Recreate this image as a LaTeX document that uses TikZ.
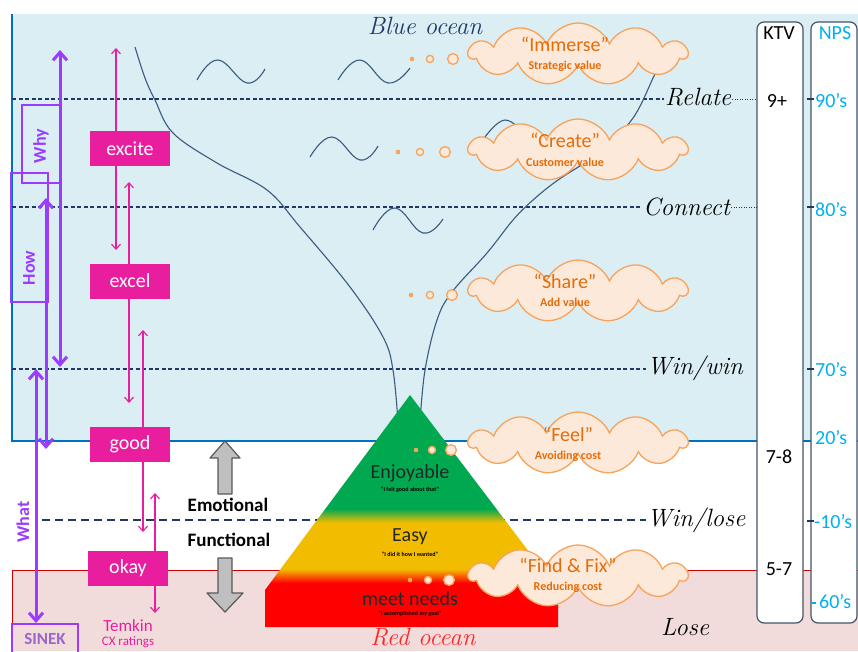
\documentclass[tikz,border=0pt]{standalone}
\usepackage{fontspec}
\newfontfamily\cb{Carlito}
\usetikzlibrary{arrows.meta,shapes.symbols}
\definecolor{bluebg}{HTML}{DAEEF3}
\definecolor{redbg}{HTML}{F2DCDB}
\definecolor{navy}{HTML}{1F3864}
\definecolor{pinkc}{HTML}{E81E9E}
\definecolor{purp}{HTML}{9B3BFF}
\definecolor{cloudf}{HTML}{FDE9D9}
\definecolor{cloudd}{HTML}{F7A35C}
\definecolor{cloudt}{HTML}{E46C0A}
\definecolor{npsc}{HTML}{00B0F0}
\definecolor{colb}{HTML}{44546A}
\definecolor{curvec}{HTML}{3B5A80}
\definecolor{grnc}{HTML}{00A84F}
\definecolor{yelc}{HTML}{F2BD00}
\definecolor{redc}{HTML}{FF0000}
\definecolor{bordblue}{HTML}{0070C0}
\definecolor{grayf}{HTML}{BFBFBF}
\definecolor{grayd}{HTML}{595959}
\definecolor{sinekc}{HTML}{9966CC}
\pgfdeclareverticalshading{pyr}{100bp}{color(0bp)=(redc); color(34.5bp)=(redc); color(37.5bp)=(yelc); color(47.5bp)=(yelc); color(50.5bp)=(grnc); color(100bp)=(grnc)}
\tikzset{
  every node/.style={font=\cb},
  dashline/.style={draw=navy, line width=1.1pt, dash pattern=on 4pt off 2.5pt},
  wavey/.style={draw=curvec, line width=1.1pt},
  pbox/.style={fill=pinkc, text=white, minimum width=80pt, minimum height=35pt, inner sep=0pt, font=\cb\fontsize{20}{20}\selectfont},
  parrow/.style={draw=pinkc, line width=1.15pt, {Straight Barb[length=5pt,width=9pt]}-{Straight Barb[length=5pt,width=9pt]}},
  vparrow/.style={draw=purp, line width=3pt, {Straight Barb[length=8pt,width=14pt]}-{Straight Barb[length=8pt,width=14pt]}},
  pvbox/.style={draw=purp, line width=1.3pt},
  cloudsty/.style={cloud, cloud puffs=11, cloud puff arc=135, aspect=3.4, draw=cloudd, fill=cloudf, line width=1.3pt, minimum width=218pt, minimum height=62pt, inner sep=0pt},
  ctitle/.style={text=cloudt, font=\cb\fontsize{20}{20}\selectfont},
  csub/.style={text=cloudt, font=\cb\bfseries\fontsize{12}{12}\selectfont},
  scriptlab/.style={font=\normalfont\itshape\fontsize{25}{25}\selectfont, text=black, anchor=west, inner sep=1pt},
  coltext/.style={font=\cb\fontsize{20}{20}\selectfont},
  colbox/.style={draw=colb, fill=white, line width=1.2pt, rounded corners=7pt},
  dotsm/.style={fill=cloudd},
  dotring/.style={draw=cloudd, fill=cloudf, line width=1.3pt},
  pyrtext/.style={font=\cb\fontsize{20}{20}\selectfont, text=black!85},
  pyrsub/.style={font=\cb\bfseries\fontsize{6}{6}\selectfont, text=black},
  grayarrow/.style={fill=grayf, draw=grayd, line width=1.2pt, line join=round},
}
\begin{document}
\begin{tikzpicture}[x=1pt,y=-1pt]
\useasboundingbox (0,0) rectangle (858,651);
\fill[white] (0,0) rectangle (858,651);
% backgrounds
\fill[bluebg] (12,14) rectangle (858,441);
\fill[redbg] (12,570) rectangle (858,651);
\draw[bordblue, line width=1.3pt] (12,14) -- (12,441) -- (858,441);
\draw[red!80!black, line width=1pt] (12,651) -- (12,570) -- (858,570);

% script labels
\node[font=\normalfont\itshape\fontsize{25}{25}\selectfont, text=navy] (blue) at (425,26) {Blue ocean};
\node[font=\normalfont\itshape\fontsize{25}{25}\selectfont, text=red!80!pink] (redo) at (423,637) {Red ocean};
\node[scriptlab] (relate) at (664,97) {Relate};
\node[scriptlab] (connect) at (642,207) {Connect};
\node[scriptlab] (winwin) at (646,368) {Win/win};
\node[scriptlab] (winlose) at (646,520) {Win/lose};
\node[scriptlab] (lose) at (660,627) {Lose};

% dashed level lines
\coordinate (l1) at (12,99);
\coordinate (l2) at (12,207);
\coordinate (l3) at (12,369);
\coordinate (l4) at (42,520);
\draw[dashline] (l1) -- (relate.west |- l1);
\draw[dashline] (l2) -- (connect.west |- l2);
\draw[dashline] (l3) -- (winwin.west |- l3);
\draw[draw=navy, line width=2.2pt, dash pattern=on 8pt off 5pt] (l4) -- (winlose.west |- l4);

% waves
\draw[wavey] plot[smooth, tension=0.75] coordinates {(197,80) (218,60) (247,83) (265,69)};
\draw[wavey] plot[smooth, tension=0.75] coordinates {(338,80) (360,60) (388,83) (410,68)};
\draw[wavey] plot[smooth, tension=0.75] coordinates {(310,157) (332,137) (360,160) (378,146)};
\draw[wavey] plot[smooth, tension=0.75] coordinates {(485,137) (505,120) (525,135)};
\draw[wavey] plot[smooth, tension=0.75] coordinates {(373,230) (395,208) (423,233) (443,219)};

% funnel curves
\draw[wavey] plot[smooth, tension=0.6] coordinates {(135,47) (145,78) (155,100) (173,133) (217,163) (267,190) (300,227) (350,287) (383,337) (393,370) (398,422)};
\draw[wavey] plot[smooth, tension=0.6] coordinates {(668,50) (655,74) (633,118) (600,152) (558,180) (533,200) (513,220) (487,253) (452,292) (437,320) (425,370) (420,422)};

% pyramid
\path[shading=pyr] (410,395) -- (558,590) -- (558,627) -- (265,627) -- (265,590) -- cycle;
\node[pyrtext] (enj) at (410,473) {Enjoyable};
\node[pyrsub] (enjs) at (410,490) {“I felt good about that”};
\node[pyrtext] (easy) at (410,537) {Easy};
\node[pyrsub] (easys) at (410,554) {“I did it how I wanted”};
\node[pyrtext] (meet) at (410,599) {meet needs};
\node[pyrsub] (meets) at (410,614) {“I accomplished my goal”};

% clouds
\node[cloudsty] (cimm) at (578,54) {};
\node[cloudsty] (ccre) at (578,150) {};
\node[cloudsty] (csha) at (578,291) {};
\node[cloudsty] (cfee) at (578,443) {};
\node[cloudsty] (cfix) at (578,576) {};
\node[ctitle] (t1) at (565,44) {“Immerse”};
\node[csub] (s1) at (565,66) {Strategic value};
\node[ctitle] (t2) at (565,140) {“Create”};
\node[csub] (s2) at (565,162) {Customer value};
\node[ctitle] (t3) at (565,281) {“Share”};
\node[csub] (s3) at (565,302) {Add value};
\node[ctitle] (t4) at (568,434) {“Feel”};
\node[csub] (s4) at (568,456) {Avoiding cost};
\node[ctitle] (t5) at (568,565) {“Find \& Fix”};
\node[csub] (s5) at (568,587) {Reducing cost};

% thought dots
\foreach \yy/\xa/\xb/\xc in {59/412/430/453, 152/398/420/445, 295/411/430/452, 450/416/432/451, 580/410/428/449}{
  \fill[dotsm] (\xa,\yy) circle (2.3pt);
  \draw[dotring] (\xb,\yy) circle (3.6pt);
  \draw[dotring] (\xc,\yy) circle (5.4pt);
}

% gray block arrows
\draw[grayarrow] (225,441) -- (240,458) -- (232,458) -- (232,494) -- (218,494) -- (218,458) -- (210,458) -- cycle;
\draw[grayarrow] (218,558) -- (232,558) -- (232,593) -- (243,593) -- (225,612) -- (207,593) -- (218,593) -- cycle;
\node[font=\cb\bfseries\fontsize{19}{19}\selectfont] (emo) at (228,505) {Emotional};
\node[font=\cb\bfseries\fontsize{19}{19}\selectfont] (fun) at (229,540) {Functional};

% pink arrows
\coordinate (pa1) at (116,48);  \coordinate (pb1) at (116,250);
\coordinate (pa2) at (129,182); \coordinate (pb2) at (129,403);
\coordinate (pa3) at (143,330); \coordinate (pb3) at (143,532);
\coordinate (pa4) at (155,493); \coordinate (pb4) at (155,613);
\draw[parrow] (pa1) -- (pb1);
\draw[parrow] (pa2) -- (pb2);
\draw[parrow] (pa3) -- (pb3);
\draw[parrow] (pa4) -- (pb4);
\node[pbox] (excite) at (130,148.5) {excite};
\node[pbox] (excel) at (130,281) {excel};
\node[pbox] (good) at (130,444.5) {good};
\node[pbox] (okay) at (128,568) {okay};
\node[text=pinkc, font=\cb\fontsize{17}{17}\selectfont] (temkin) at (128,626) {Temkin};
\node[text=pinkc, font=\cb\fontsize{13}{13}\selectfont] (cx) at (128,642) {CX ratings};

% purple arrows and boxes
\draw[pvbox] (22,105) rectangle (60,183);
\draw[pvbox] (11,173) rectangle (48,302);
\draw[pvbox] (12,624) rectangle (78,665);
\coordinate (va1) at (60,50);  \coordinate (vb1) at (60,367);
\coordinate (va2) at (46,198); \coordinate (vb2) at (46,449);
\coordinate (va3) at (36,369); \coordinate (vb3) at (36,623);
\draw[vparrow] (va1) -- (vb1);
\draw[vparrow] (va2) -- (vb2);
\draw[vparrow] (va3) -- (vb3);
\node[rotate=90, text=purp, font=\cb\bfseries\fontsize{18}{18}\selectfont] (why) at (41,146) {Why};
\node[rotate=90, text=purp, font=\cb\bfseries\fontsize{18}{18}\selectfont] (how) at (29,268) {How};
\node[rotate=90, text=purp, font=\cb\bfseries\fontsize{18}{18}\selectfont] (what) at (23,522) {What};
\node[text=sinekc, font=\cb\bfseries\fontsize{17}{17}\selectfont] (sinek) at (45,639) {SINEK};

% KTV / NPS columns
\draw[colbox] (757,22) rectangle (803,623);
\draw[colbox] (811,22) rectangle (857,623);
\node[coltext] (ktv) at (779,33) {KTV};
\node[coltext] (k9) at (777,101) {9+};
\node[coltext] (k78) at (779,457) {7-8};
\node[coltext] (k57) at (779,569) {5-7};
\node[coltext, text=npsc] (nps) at (835,33) {NPS};
\node[coltext, text=npsc, anchor=west, inner sep=1pt] (n90) at (814,101) {90’s};
\node[coltext, text=npsc, anchor=west, inner sep=1pt] (n80) at (814,210) {80’s};
\node[coltext, text=npsc, anchor=west, inner sep=1pt] (n70) at (814,370) {70’s};
\node[coltext, text=npsc, anchor=west, inner sep=1pt] (n20) at (814,438) {20’s};
\node[coltext, text=npsc, anchor=west, inner sep=1pt] (n10) at (813,522) {-10’s};
\node[coltext, text=npsc, anchor=west, inner sep=1pt] (n60) at (818,602) {60’s};
% ticks and leaders
\draw[navy, line width=1pt, dash pattern=on 1pt off 1.5pt] (relate.east |- l1) -- (757,99);
\draw[navy, line width=1pt, dash pattern=on 1pt off 1.5pt] (connect.east |- l2) -- (757,207);
\foreach \ty in {99,207,369,521}{ \draw[navy, line width=1.3pt] (807,\ty) -- (814,\ty); }
\draw[npsc, line width=1.3pt] (811,603) -- (816,603);
\end{tikzpicture}
\end{document}
